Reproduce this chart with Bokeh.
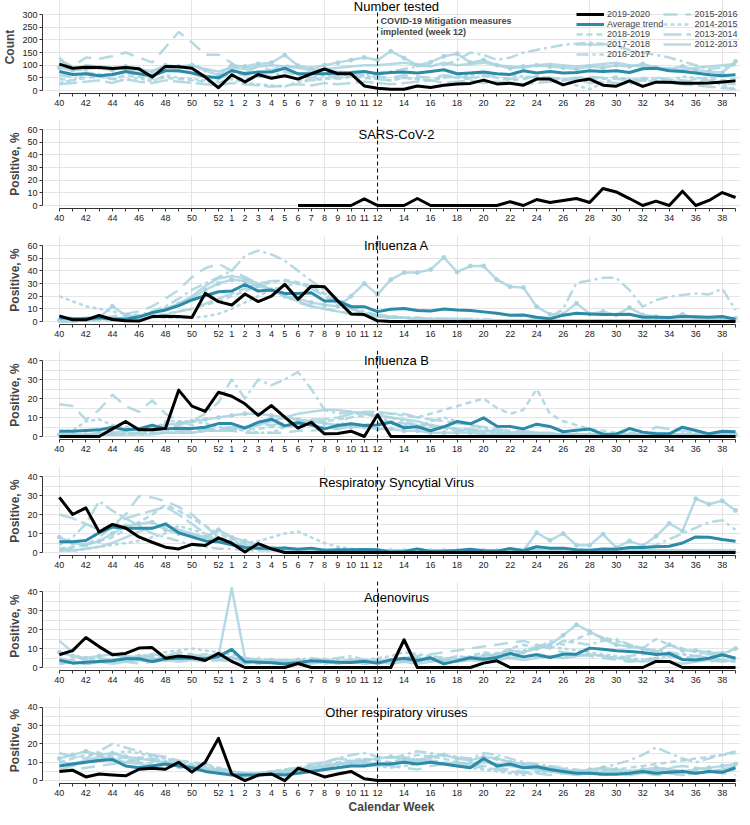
from bokeh.plotting import figure
from bokeh.layouts import column
from bokeh.models import LinearAxis, FixedTicker, Range1d, Span, Label, Legend, LegendItem
from bokeh.embed import file_html
from bokeh.resources import INLINE

# ---------------- data ----------------
weeks = list(range(40, 53)) + list(range(1, 40))
labelled_weeks = [40, 42, 44, 46, 48, 50, 52] + list(range(1, 13)) + list(range(14, 40, 2))
mitigation_week = 12
hist_seasons = ["2018-2019", "2017-2018", "2016-2017", "2015-2016", "2014-2015", "2013-2014", "2012-2013"]

count_tested = {
    "2019-2020": [104, 88, 92, 91, 87, 91, 86, 53, 95, 94, 88, 53, 11,
                  62, 34, 63, 48, 58, 45, 66, 85, 66, 66, 18, 9, 5,
                  5, 18, 12, 21, 26, 28, 41, 26, 29, 21, 45, 45, 22,
                  37, 45, 21, 17, 38, 16, 33, 33, 29, 29, 30, 34, 38],
    "Average trend": [75, 63, 66, 58, 63, 75, 66, 58, 78, 78, 69, 55, 50,
                      79, 66, 73, 73, 88, 66, 66, 66, 69, 71, 75, 66, 71,
                      73, 69, 75, 82, 66, 69, 73, 66, 63, 78, 69, 75, 69,
                      71, 78, 75, 78, 71, 86, 88, 78, 75, 69, 62, 58, 62],
    "2018-2019": [45, 40, 50, 55, 45, 60, 55, 45, 50, 45, 40, 35, 30,
                  50, 45, 55, 50, 60, 45, 40, 50, 45, 55, 50, 45, 40,
                  50, 45, 40, 55, 50, 45, 60, 50, 40, 45, 55, 50, 45,
                  40, 50, 45, 55, 40, 50, 45, 40, 35, 45, 50, 40, 45],
    "2017-2018": [90, 80, 85, 90, 80, 95, 85, 75, 100, 95, 100, 80, 60,
                  100, 95, 105, 110, 140, 98, 88, 100, 110, 120, 130, 120, 155,
                  128, 100, 112, 135, 145, 110, 120, 100, 88, 95, 100, 95, 90,
                  85, 95, 90, 100, 95, 105, 90, 85, 95, 80, 75, 70, 115],
    "2016-2017": [60, 55, 70, 65, 60, 70, 65, 55, 80, 75, 70, 60, 45,
                  70, 60, 65, 55, 75, 60, 50, 60, 55, 65, 60, 70, 75,
                  85, 95, 102, 100, 120, 150, 140, 121, 130, 150, 160, 170, 180,
                  185, 188, 185, 175, 160, 150, 140, 130, 115, 100, 85, 90, 102],
    "2015-2016": [120, 95, 130, 125, 135, 150, 130, 111, 170, 231, 190, 141, 141,
                  108, 71, 95, 80, 100, 90, 70, 80, 75, 70, 60, 55, 50,
                  60, 55, 50, 60, 55, 50, 60, 55, 45, 50, 55, 50, 45,
                  50, 55, 50, 45, 40, 45, 50, 45, 40, 35, 40, 30, 25],
    "2014-2015": [30, 40, 65, 60, 45, 40, 50, 35, 60, 50, 45, 40, 35,
                  45, 30, 25, 20, 15, 35, 40, 45, 50, 55, 60, 45, 40,
                  50, 45, 40, 50, 55, 60, 70, 65, 60, 55, 50, 45, 40,
                  20, 5, 30, 50, 45, 40, 35, 40, 55, 50, 45, 20, 5],
    "2013-2014": [25, 30, 35, 40, 30, 45, 35, 30, 40, 35, 30, 25, 20,
                  30, 25, 20, 15, 20, 25, 20, 30, 25, 30, 35, 30, 25,
                  30, 35, 40, 30, 35, 40, 30, 35, 30, 25, 30, 35, 40,
                  45, 30, 35, 30, 25, 40, 35, 30, 25, 20, 15, 10, 5],
    "2012-2013": [130, 80, 100, 95, 90, 85, 80, 75, 95, 90, 100, 85, 75,
                  90, 85, 95, 100, 95, 90, 80, 85, 90, 95, 100, 100, 105,
                  110, 100, 95, 110, 100, 105, 110, 100, 95, 90, 100, 105, 100,
                  95, 100, 105, 110, 100, 95, 90, 85, 80, 90, 95, 100, 105],
}

sars_first_week = 6
sars_cov_2 = {
    "2019-2020": [0, 0, 0, 0, 0, 5.2, 0, 0,
                  0, 5.5, 0, 0, 0, 0, 0, 0, 3, 0, 4.7, 2.4, 4,
                  5.5, 2.4, 13.4, 10.7, 5.5, 0, 3.4, 0, 11.3, 0, 4, 10.2, 6.3],
}

influenza_a = {
    "2019-2020": [4.4, 1.3, 1.3, 4.7, 1.6, 0.5, 0.3, 3.9, 4.2, 3.9, 3.1, 22.2, 15.7,
                  13, 21.7, 15.7, 20, 29.4, 17.5, 27.9, 27.4, 16.2, 6, 5.5, 0.5, 0,
                  0, 0, 0, 0, 0, 0, 0, 0, 0, 0, 0, 0, 0,
                  0, 0, 0, 0, 0, 0, 0, 0, 0, 0, 0, 0, 0],
    "Average trend": [2.9, 2.3, 2.1, 2.9, 2.1, 1.8, 3.7, 7, 9.1, 12.5, 17, 20.3, 23.5,
                      24, 29.2, 24, 24.8, 22.2, 22.2, 22.7, 16.2, 16.2, 11.7, 11.7, 7.8, 9.7,
                      10.2, 8.6, 8.3, 9.9, 9.1, 8.6, 7.6, 6.5, 5, 5.2, 3.4, 2.1, 5,
                      6.5, 6, 5.5, 5.5, 5.7, 3.4, 3.4, 3.1, 3.9, 3.7, 3.4, 3.9, 1.8],
    "2018-2019": [1, 1, 1, 2, 2, 2, 3, 4, 6, 8, 10, 13, 16,
                  20, 24, 28, 31, 33, 31, 28, 22, 16, 10, 6, 4, 3,
                  3, 2, 2, 2, 2, 1, 1, 1, 1, 1, 1, 1, 1,
                  1, 1, 1, 1, 1, 1, 1, 1, 1, 1, 1, 1, 1],
    "2017-2018": [1, 1, 2, 3, 12, 5, 3, 6, 10, 14, 18, 25, 30,
                  33, 32, 28, 25, 20, 18, 15, 13, 12, 20, 30, 21.4, 33,
                  38.6, 38.6, 41, 50.6, 39.1, 43.8, 43.8, 33, 27.4, 26.9, 11.7, 5.7, 6,
                  14.4, 6, 7.8, 5.2, 11, 5.2, 3.9, 2.6, 5.7, 2.6, 2.6, 2.6, 2.6],
    "2016-2017": [0, 0, 1, 1, 2, 3, 5, 8, 12, 18, 25, 30, 35,
                  40, 52, 56, 53, 48, 40, 32, 25, 18, 12, 8, 5, 4,
                  3, 3, 2, 2, 2, 2, 2, 1, 1, 1, 2, 3, 10,
                  30.5, 32.4, 34.5, 34.5, 24.8, 11.7, 17, 19.6, 20.9, 22.2, 21.4, 26, 9],
    "2015-2016": [2, 2, 3, 3, 4, 6, 8, 12, 18, 25, 35, 42, 45.6,
                  40, 35, 30, 25, 20, 15, 12, 10, 8, 6, 5, 4, 3,
                  3, 2, 2, 2, 1, 1, 1, 1, 1, 1, 1, 1, 1,
                  1, 1, 1, 1, 1, 1, 1, 1, 1, 1, 1, 1, 1],
    "2014-2015": [20, 16, 12, 10, 8, 6, 5, 4, 3, 3, 3, 4, 6,
                  10, 15, 20, 25, 28, 30, 27, 22, 16, 10, 7, 5, 4,
                  3, 3, 2, 2, 2, 2, 1, 1, 1, 1, 1, 1, 1,
                  1, 1, 1, 1, 1, 1, 1, 1, 1, 1, 1, 1, 1],
    "2013-2014": [0, 0, 1, 1, 1, 1, 2, 3, 5, 8, 10, 14, 18,
                  22, 26, 30, 32, 32, 30, 26, 20, 14, 10, 7, 5, 4,
                  3, 2, 2, 2, 1, 1, 1, 1, 1, 1, 1, 1, 1,
                  1, 1, 1, 1, 1, 1, 1, 1, 1, 1, 1, 1, 1],
    "2012-2013": [1, 1, 1, 2, 2, 3, 4, 6, 9, 14, 20, 28, 34,
                  36, 34, 30, 25, 20, 16, 12, 10, 8, 6, 5, 4, 3,
                  3, 2, 2, 2, 2, 1, 1, 1, 1, 1, 1, 1, 1,
                  1, 1, 1, 1, 1, 1, 1, 1, 1, 1, 1, 1, 1],
}

influenza_b = {
    "2019-2020": [0, 0, 0, 0, 4, 7.9, 3.5, 3.5, 4.2, 24.4, 16, 13.2, 23.3,
                  21.2, 17.2, 11.1, 16.3, 10.2, 4.4, 7.5, 1.4, 1.6, 2.8, 0, 11.4, 0,
                  0, 0, 0, 0, 0, 0, 0, 0, 0, 0, 0, 0, 0,
                  0, 0, 0, 0, 0, 0, 0, 0, 0, 0, 0, 0, 0],
    "Average trend": [2.8, 2.8, 3.2, 3.5, 4.9, 3.5, 4, 6, 4, 4.4, 4.2, 4.9, 6.8,
                      6.8, 4.4, 7.5, 9.1, 5.6, 7.2, 6.1, 4, 5.8, 6.7, 5.8, 6.1, 7.5,
                      4.6, 5.1, 3, 5.1, 7.9, 6.7, 9.8, 5.4, 5.3, 4, 6.5, 5.3, 2.5,
                      3.3, 3.9, 1.2, 1.2, 4.2, 2.3, 1.4, 1.4, 4.9, 3.2, 1.4, 2.8, 2.5],
    "2018-2019": [0, 0, 1, 1, 1, 1, 1, 2, 2, 2, 2, 3, 3,
                  3, 4, 4, 5, 5, 6, 7, 8, 9, 10, 11, 12, 12,
                  11, 10, 12, 14, 16, 18, 20, 15, 12, 14, 25, 12, 8,
                  6, 4, 3, 2, 2, 2, 2, 1, 1, 1, 1, 1, 1],
    "2017-2018": [1, 1, 1, 2, 2, 3, 4, 5, 6, 7, 8, 9, 10,
                  11, 12, 12, 11, 10, 9, 8, 7, 6, 5, 5, 4, 4,
                  3, 3, 2, 2, 2, 2, 1, 1, 1, 1, 1, 1, 1,
                  1, 1, 1, 1, 1, 1, 1, 1, 1, 1, 1, 1, 1],
    "2016-2017": [1, 1, 1, 1, 1, 2, 2, 3, 4, 6, 8, 12, 18,
                  30, 20, 30, 27, 30, 34, 25, 14, 12, 13, 12, 11, 10,
                  8, 6, 5, 4, 3, 3, 2, 2, 2, 2, 1, 1, 1,
                  1, 1, 1, 1, 1, 1, 1, 1, 1, 1, 1, 1, 1],
    "2015-2016": [17, 16, 9, 14, 22, 16, 13, 19, 12, 8, 6, 4, 3,
                  3, 2, 2, 2, 2, 3, 3, 4, 4, 5, 6, 7, 8,
                  7, 6, 6, 5, 4, 4, 3, 3, 2, 2, 2, 1, 1,
                  1, 1, 1, 1, 1, 1, 1, 1, 1, 1, 1, 1, 1],
    "2014-2015": [3, 3, 8, 9, 6, 5, 4, 3, 8, 8, 8, 7, 5,
                  4, 3, 2, 2, 5, 7, 6, 5, 4, 12, 12, 10, 8,
                  6, 5, 8, 10, 8, 6, 4, 3, 2, 2, 2, 1, 1,
                  1, 1, 1, 1, 1, 1, 1, 1, 1, 1, 1, 1, 1],
    "2013-2014": [1, 1, 1, 1, 1, 1, 2, 2, 2, 3, 3, 4, 4,
                  5, 5, 6, 6, 7, 8, 9, 9, 10, 12, 13, 13, 12,
                  12, 10, 9, 8, 7, 6, 5, 4, 3, 3, 2, 2, 1,
                  1, 1, 1, 1, 1, 1, 5, 4, 3, 2, 1, 1, 1],
    "2012-2013": [0, 0, 0, 1, 1, 1, 1, 1, 2, 2, 2, 3, 3,
                  4, 5, 6, 8, 10, 12, 13, 14, 14, 13, 12, 11, 10,
                  9, 8, 6, 5, 4, 3, 3, 2, 2, 2, 1, 1, 1,
                  1, 1, 1, 1, 1, 1, 1, 1, 1, 1, 1, 1, 1],
}

rsv = {
    "2019-2020": [29, 20, 23.5, 10.8, 14.8, 12.9, 8.2, 5.4, 2.8, 1.9, 4.3, 3.7, 7.7,
                  4.9, 0.3, 4.7, 1.9, 0, 0, 0, 0, 0, 0, 0, 0, 0,
                  0, 0, 0, 0, 0, 0, 0, 0, 0, 0, 0, 0, 0,
                  0, 0, 0, 0, 0, 0, 0, 0, 0, 0, 0, 0, 0],
    "Average trend": [5.7, 5.7, 6.3, 10.4, 13.4, 12.7, 12.7, 12.7, 15.1, 10.4, 8.2, 6.1, 5.6,
                      4, 2.6, 2.3, 2.1, 2.4, 1.7, 2.3, 1.2, 1.4, 1.4, 1.6, 1.4, 0.3,
                      0.5, 1.9, 0.5, 0.7, 1, 1.7, 0.9, 0.7, 2.1, 0.9, 3, 2.3, 2.3,
                      1.4, 1.2, 1.9, 1.7, 2.6, 2.6, 3, 3.3, 5, 8.2, 8, 6.8, 5.9],
    "2018-2019": [2, 3, 4, 6, 8, 12, 16, 20, 25, 22, 18, 14, 10,
                  7, 5, 4, 3, 2, 2, 1, 1, 1, 1, 1, 1, 1,
                  1, 1, 1, 1, 1, 1, 1, 1, 1, 1, 1, 1, 1,
                  1, 1, 1, 1, 1, 1, 1, 1, 1, 1, 1, 1, 1],
    "2017-2018": [8, 5, 4, 6, 10, 14, 15, 16, 12, 10, 9, 8, 12,
                  8, 6, 4, 2, 2, 1, 1, 1, 1, 1, 1, 1, 1,
                  1, 1, 1, 1, 1, 1, 1, 1, 1, 1, 10.4, 6.4, 10,
                  3.8, 3.8, 9.7, 2.6, 6.1, 3.5, 8.5, 15.3, 11.3, 28.3, 25.4, 27.3, 22.1],
    "2016-2017": [4, 8, 15, 27, 22, 18, 14, 10, 8, 6, 4, 3, 2,
                  2, 1, 1, 1, 1, 1, 1, 1, 1, 1, 1, 1, 1,
                  1, 1, 1, 1, 1, 1, 1, 1, 1, 1, 1, 1, 1,
                  1, 1, 1, 1, 1, 2, 4, 7, 10, 13, 16, 17, 12],
    "2015-2016": [2, 2, 4, 8, 14, 20, 29.6, 29, 27, 24, 20, 14, 8,
                  5, 3, 2, 1, 1, 1, 1, 1, 1, 1, 1, 1, 1,
                  1, 1, 1, 1, 1, 1, 1, 1, 1, 1, 1, 1, 1,
                  1, 1, 1, 1, 1, 1, 1, 1, 1, 1, 1, 1, 1],
    "2014-2015": [1, 1, 2, 3, 4, 5, 6, 8, 10, 14, 12, 10, 8,
                  6, 5, 6, 8, 10, 11, 8, 5, 3, 2, 1, 1, 1,
                  1, 2, 1, 1, 1, 1, 1, 1, 1, 2, 3, 2, 2,
                  1, 1, 1, 1, 1, 1, 1, 1, 1, 1, 1, 1, 1],
    "2013-2014": [20, 18, 15, 12, 14, 18, 20, 22, 24, 20, 15, 10, 6,
                  4, 3, 2, 2, 1, 1, 1, 1, 1, 1, 1, 1, 1,
                  1, 1, 1, 1, 1, 1, 1, 1, 1, 1, 1, 1, 1,
                  1, 1, 1, 1, 1, 1, 1, 1, 1, 1, 1, 1, 1],
    "2012-2013": [1, 1, 2, 3, 5, 8, 11, 13, 14, 12, 10, 8, 6,
                  5, 4, 3, 2, 2, 1, 1, 1, 1, 1, 1, 1, 1,
                  1, 1, 1, 1, 1, 1, 1, 1, 1, 1, 1, 1, 1,
                  1, 1, 1, 1, 1, 1, 1, 1, 1, 1, 1, 1, 1],
}

adenovirus = {
    "2019-2020": [6.7, 8.9, 15.8, 11, 6.7, 7.4, 10.2, 10.5, 4.9, 6.1, 5.4, 3.7, 7.5,
                  3.2, 0, 0, 0, 0, 2.1, 0, 0, 0, 0, 0, 0, 0,
                  14.6, 0, 0, 0, 0, 0, 2.3, 3.5, 0, 0, 0, 0, 0,
                  0, 0, 0, 0, 0, 0, 3.2, 3.2, 0, 0, 0, 0, 0],
    "Average trend": [3.9, 2.3, 2.8, 3.2, 3.5, 4.6, 4.6, 3.2, 4.6, 4.9, 4.9, 4.6, 5.8,
                      9.5, 3, 2.8, 2.5, 1.9, 2.5, 3.5, 3.2, 2.8, 2.6, 3.3, 2.3, 4,
                      4.9, 3.7, 5.1, 1.9, 3.5, 5.1, 4.4, 5.3, 7.4, 5.6, 6.7, 5.3, 7,
                      7, 10.2, 9.6, 8.8, 8.4, 7.9, 6.8, 7.4, 4.2, 3.9, 4.9, 6.7, 4.9],
    "2018-2019": [3, 4, 5, 4, 3, 4, 5, 6, 5, 4, 5, 6, 7,
                  5, 4, 3, 3, 4, 3, 3, 4, 3, 3, 4, 3, 4,
                  5, 4, 6, 5, 4, 6, 8, 7, 10, 12, 10, 14, 12,
                  15, 18, 16, 14, 12, 10, 15, 12, 10, 8, 7, 6, 5],
    "2017-2018": [8, 6, 5, 6, 7, 5, 6, 5, 4, 5, 6, 5, 6,
                  5, 4, 3, 4, 3, 4, 3, 4, 3, 4, 3, 4, 3,
                  4, 5, 4, 3, 4, 5, 6, 7, 9, 8, 10, 12, 17,
                  22.5, 19, 15, 12, 11, 10, 8, 12, 9, 9, 8, 7, 10],
    "2016-2017": [2, 3, 2, 3, 4, 5, 4, 3, 4, 5, 6, 7, 6,
                  5, 4, 5, 4, 3, 4, 5, 4, 5, 6, 4, 3, 4,
                  3, 4, 5, 4, 6, 5, 4, 5, 6, 8, 12, 10, 14,
                  13, 12, 14, 15, 12, 10, 9, 8, 7, 6, 7, 8, 9],
    "2015-2016": [5, 3, 2, 3, 4, 3, 2, 3, 4, 5, 4, 3, 4,
                  5, 3, 2, 3, 4, 3, 2, 3, 4, 3, 2, 3, 4,
                  5, 6, 7, 8, 9, 10, 11, 12, 13, 14, 12, 10, 8,
                  7, 6, 5, 4, 3, 4, 5, 6, 5, 4, 3, 4, 5],
    "2014-2015": [4, 3, 2, 3, 4, 5, 6, 7, 8, 9, 10, 9, 8,
                  7, 5, 4, 3, 3, 3, 4, 3, 4, 3, 4, 5, 6,
                  8, 7, 6, 5, 4, 5, 6, 7, 8, 9, 10, 11, 10,
                  9, 8, 7, 6, 5, 4, 5, 6, 7, 6, 5, 4, 3],
    "2013-2014": [14, 8, 3, 5, 4, 6, 5, 7, 6, 8, 7, 5, 4,
                  3, 2, 3, 4, 3, 2, 3, 2, 3, 4, 3, 2, 3,
                  4, 3, 5, 4, 6, 5, 7, 6, 5, 6, 7, 6, 5,
                  6, 7, 6, 5, 6, 7, 8, 6, 5, 6, 5, 4, 3],
    "2012-2013": [2, 3, 2, 3, 2, 3, 4, 3, 4, 3, 4, 5, 6,
                  41.8, 5, 4, 3, 4, 3, 2, 3, 2, 3, 2, 3, 2,
                  3, 2, 3, 4, 3, 4, 3, 4, 5, 4, 5, 6, 5,
                  6, 7, 6, 5, 4, 3, 4, 3, 2, 3, 4, 3, 4],
}

other_viruses = {
    "2019-2020": [5, 5.7, 2, 3.6, 3.1, 2.6, 6.2, 6.7, 6.2, 10, 4.6, 10, 23,
                  3.6, 0, 3, 3.6, 0, 6.7, 4.6, 2, 3.6, 5, 1, 0, 0,
                  0, 0, 0, 0, 0, 0, 0, 0, 0, 0, 0, 0, 0,
                  0, 0, 0, 0, 0, 0, 0, 0, 0, 0, 0, 0, 0],
    "Average trend": [8, 9, 10, 11, 11.5, 8, 7, 8, 9, 8, 7, 5, 4,
                      3, 3, 3, 3.5, 3, 4, 5, 6, 7, 8, 8, 9, 9,
                      10, 9, 10, 9, 8, 7, 12, 8, 9, 7, 7.5, 6, 5,
                      4, 4, 3.5, 3.5, 4, 5, 4, 4.5, 5, 4, 5, 4.5, 7],
    "2018-2019": [10, 12, 14, 15, 13, 12, 10, 9, 8, 7, 6, 5, 4,
                  3, 3, 4, 5, 6, 7, 8, 9, 10, 11, 12, 11, 10,
                  12, 14, 13, 12, 10, 9, 11, 12, 10, 9, 8, 7, 6,
                  5, 4, 5, 6, 7, 8, 9, 10, 11, 12, 13, 14, 15],
    "2017-2018": [12, 14, 16, 14, 15, 13, 12, 11, 10, 9, 8, 6, 5,
                  4, 3, 3, 4, 5, 6, 7, 8, 9, 10, 11, 12, 13,
                  12, 11, 13, 14, 12, 11, 13, 12, 10, 9, 8, 7, 6,
                  5, 6, 7, 6, 5, 6, 7, 6, 5, 6, 7, 8, 9],
    "2016-2017": [15, 13, 12, 16, 20, 18, 16, 14, 12, 10, 8, 6, 4,
                  3, 2, 3, 4, 5, 6, 8, 10, 12, 14, 15, 13, 12,
                  14, 16, 15, 14, 13, 12, 15, 14, 12, 10, 9, 8, 7,
                  6, 5, 7, 9, 11, 14, 18, 15, 12, 10, 12, 14, 16],
    "2015-2016": [5, 6, 7, 8, 9, 10, 11, 12, 10, 9, 8, 7, 6,
                  5, 4, 3, 3, 4, 5, 6, 7, 8, 9, 10, 9, 8,
                  7, 6, 8, 9, 10, 9, 8, 7, 6, 5, 4, 3, 4,
                  5, 4, 3, 4, 5, 4, 3, 4, 3, 4, 5, 4, 3],
    "2014-2015": [8, 9, 10, 12, 14, 16, 15, 13, 12, 10, 9, 8, 7,
                  5, 4, 3, 4, 5, 6, 7, 8, 9, 10, 9, 8, 7,
                  8, 9, 10, 9, 8, 7, 6, 5, 4, 3, 4, 5, 6,
                  5, 4, 3, 4, 5, 6, 5, 4, 3, 4, 5, 6, 7],
    "2013-2014": [6, 8, 10, 12, 11, 10, 12, 14, 13, 11, 10, 9, 7,
                  5, 4, 4, 5, 6, 7, 9, 10, 12, 11, 10, 9, 10,
                  11, 12, 11, 10, 9, 8, 7, 6, 5, 4, 5, 6, 5,
                  4, 5, 6, 5, 4, 5, 6, 7, 8, 7, 6, 5, 6],
    "2012-2013": [10, 9, 11, 13, 12, 10, 9, 8, 10, 9, 8, 7, 6,
                  4, 3, 4, 5, 4, 5, 6, 8, 9, 10, 9, 8, 9,
                  10, 11, 10, 9, 8, 9, 10, 9, 8, 7, 6, 5, 4,
                  3, 4, 5, 4, 3, 4, 5, 6, 5, 4, 5, 6, 8],
}

# ---------------- style / layout ----------------
FONT = "Liberation Sans"
BLACK = "#000000"
TEAL = "#2b8aa8"
LIGHT = "#a9d3df"
AXIS = "#333333"
hist_dash = {"2018-2019": "6 4", "2017-2018": "solid", "2016-2017": "12 4 3 4",
             "2015-2016": "14 8", "2014-2015": "4 3", "2013-2014": "18 5", "2012-2013": "solid"}

W = 740
LEFT = 36
X0_PX, XN_PX = 53, 735
N = len(weeks)
SC = (XN_PX - X0_PX) / (N - 1)
X_START = -(X0_PX - LEFT) / SC
X_END = (N - 1) + (W - XN_PX) / SC
BAND = 76
week_pos = {w: i for i, w in enumerate(weeks)}
x_overrides = {i: (str(w) if w in labelled_weeks else "") for i, w in enumerate(weeks)}

panels = [
    # data, title, ylabel, max, ticks, pad_top, bottom_border, first_week, xlabel, title offset (px below band top)
    (count_tested, "Number tested", "Count", 300, list(range(0, 301, 50)), 14, 26, 40, None, -8),
    (sars_cov_2, "SARS-CoV-2", "Positive, %", 60, list(range(0, 61, 10)), 10, 27, sars_first_week, None, 5),
    (influenza_a, "Influenza A", "Positive, %", 60, list(range(0, 61, 10)), 10, 26, 40, None, 0),
    (influenza_b, "Influenza B", "Positive, %", 40, list(range(0, 41, 10)), 10, 27, 40, None, 0),
    (rsv, "Respiratory Syncytial Virus", "Positive, %", 40, list(range(0, 41, 10)), 10, 26, 40, None, 6),
    (adenovirus, "Adenovirus", "Positive, %", 40, list(range(0, 41, 10)), 10, 27, 40, None, 6),
    (other_viruses, "Other respiratory viruses", "Positive, %", 40, list(range(0, 41, 10)), 10, 30, 40, "Calendar Week", 6),
]

figs = []
legend_renderers = {}
for k, (data, title, ylabel, M, yticks, pad_top, bot_b, first_week, xlabel, t_off) in enumerate(panels):
    frame_h = pad_top + BAND + 3
    H = frame_h + bot_b
    upp = M / BAND
    p = figure(width=W, height=H, output_backend="svg", toolbar_location=None,
               x_range=Range1d(X_START, X_END),
               y_range=Range1d(-3 * upp, M + pad_top * upp),
               x_axis_location=None, y_axis_location=None,
               min_border_left=LEFT, min_border_right=0,
               min_border_top=0, min_border_bottom=bot_b)
    p.title.visible = False
    p.outline_line_color = None
    p.background_fill_color = "white"
    p.border_fill_color = "white"

    yax = LinearAxis(ticker=FixedTicker(ticks=yticks), bounds=(0, M),
                     axis_line_color=AXIS, major_tick_line_color=AXIS,
                     major_tick_in=0, major_tick_out=3, minor_tick_line_color=None,
                     major_label_text_font=FONT, major_label_text_font_size="9px",
                     major_label_text_color="#222222", major_label_standoff=2,
                     axis_label=ylabel, axis_label_text_font=FONT,
                     axis_label_text_font_size="12px", axis_label_text_font_style="bold",
                     axis_label_standoff=2)
    p.add_layout(yax, "left")

    xax = LinearAxis(ticker=FixedTicker(ticks=list(range(N))), bounds=(0, N - 1),
                     major_label_overrides=x_overrides,
                     axis_line_color=AXIS, major_tick_line_color=AXIS,
                     major_tick_in=0, major_tick_out=3, minor_tick_line_color=None,
                     major_label_text_font=FONT, major_label_text_font_size="9px",
                     major_label_text_color="#222222", major_label_standoff=3)
    if xlabel:
        xax.axis_label = xlabel
        xax.axis_label_text_font = FONT
        xax.axis_label_text_font_size = "12px"
        xax.axis_label_text_font_style = "bold"
        xax.axis_label_standoff = 1
    p.add_layout(xax, "below")

    # historical seasons
    for s in hist_seasons:
        if s not in data:
            continue
        vals = data[s]
        xs = list(range(len(vals)))
        r = p.line(xs, vals, line_color=LIGHT, line_width=2.5, line_dash=hist_dash[s],
                   line_alpha=0.85, line_join="round")
        rs = [r]
        if s == "2017-2018":
            rs.append(p.scatter(xs, vals, size=4, fill_color=LIGHT, line_color=LIGHT, alpha=0.9))
        if k == 0:
            legend_renderers[s] = rs
    if "Average trend" in data:
        vals = data["Average trend"]
        r = p.line(list(range(len(vals))), vals, line_color=TEAL, line_width=3, line_join="round")
        if k == 0:
            legend_renderers["Average trend"] = [r]
    vals = data["2019-2020"]
    start = week_pos[first_week]
    r = p.line(list(range(start, start + len(vals))), vals, line_color=BLACK, line_width=3,
               line_join="round")
    if k == 0:
        legend_renderers["2019-2020"] = [r]

    mpos = week_pos[mitigation_week]
    if k == 0:
        # first panel: the line starts just below the title
        p.segment(x0=[mpos], x1=[mpos], y0=[-3 * upp], y1=[M + 2 * upp],
                  line_color="black", line_width=1, line_dash="4 3")
    else:
        p.add_layout(Span(location=mpos, dimension="height",
                          line_color="black", line_width=1, line_dash="4 3"))

    title_x = X_START + (393 - LEFT) / SC
    title_y = M - t_off * upp
    p.add_layout(Label(x=title_x, y=title_y, text=title, text_font=FONT,
                       text_font_size="13px", text_align="center", text_baseline="middle",
                       text_color="black"))

    if k == 0:
        note_x = mpos + 3 / SC
        p.add_layout(Label(x=note_x, y=M - 6 * upp, text="COVID-19 Mitigation measures",
                           text_font=FONT, text_font_size="9px", text_font_style="bold",
                           text_baseline="middle"))
        p.add_layout(Label(x=note_x, y=M - 17 * upp, text="implented (week 12)",
                           text_font=FONT, text_font_size="9px", text_font_style="bold",
                           text_baseline="middle"))
        order = ["2019-2020", "Average trend"] + hist_seasons
        items = [LegendItem(label=s, renderers=legend_renderers[s]) for s in order]
        legend = Legend(items=items, location=(534, 34), orientation="vertical", nrows=5,
                        label_text_font=FONT, label_text_font_size="9px", label_standoff=3,
                        glyph_width=28, glyph_height=8, label_height=8, spacing=0,
                        padding=0, margin=0, border_line_color=None,
                        background_fill_alpha=0)
        p.add_layout(legend)
    figs.append(p)

layout = column(*figs, spacing=0)
open("out.html", "w").write(file_html(layout, INLINE))
